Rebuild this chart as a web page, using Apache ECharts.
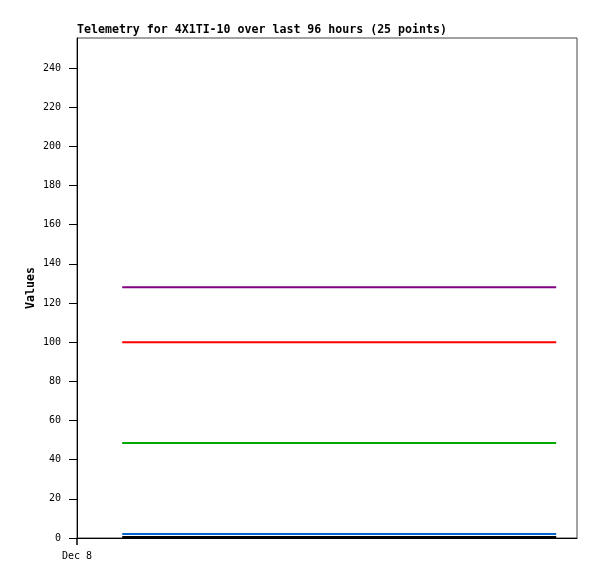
<!DOCTYPE html>
<html><head><meta charset="utf-8">
<script src="https://cdn.jsdelivr.net/npm/echarts@6/dist/echarts.min.js"></script>
<style>html,body{margin:0;padding:0;background:#fff}#c{width:597px;height:579px}</style>
</head><body><div id="c"></div>
<script>
// hours since Dec 8 00:00
var hours = [10,14,18,22,26,30,34,38,42,46,50,54,58,62,66,70,74,78,82,86,90,94,98,102,106];
var purpleVals = [128,128,128,128,128,128,128,128,128,128,128,128,128,128,128,128,128,128,128,128,128,128,128,128,128];
var redVals = [100,100,100,100,100,100,100,100,100,100,100,100,100,100,100,100,100,100,100,100,100,100,100,100,100];
var greenVals = [48.5,48.5,48.5,48.5,48.5,48.5,48.5,48.5,48.5,48.5,48.5,48.5,48.5,48.5,48.5,48.5,48.5,48.5,48.5,48.5,48.5,48.5,48.5,48.5,48.5];
var blueVals = [2,2,2,2,2,2,2,2,2,2,2,2,2,2,2,2,2,2,2,2,2,2,2,2,2];
var blackVals = [0.5,0.5,0.5,0.5,0.5,0.5,0.5,0.5,0.5,0.5,0.5,0.5,0.5,0.5,0.5,0.5,0.5,0.5,0.5,0.5,0.5,0.5,0.5,0.5,0.5];
var yTicks = [0,20,40,60,80,100,120,140,160,180,200,220,240];
var xTicks = [0];
var xLabel = 'Dec 8';
var titleText = 'Telemetry for 4X1TI-10 over last 96 hours (25 points)';

function pairs(v){ return hours.map(function(h,i){return [h,v[i]];}); }
var mono = 'DejaVu Sans Mono';
function ser(v,color){
  return {type:'line',data:pairs(v),showSymbol:false,symbol:'none',lineStyle:{color:color,width:2},itemStyle:{color:color},animation:false};
}
var chart = echarts.init(document.getElementById('c'));
chart.setOption({
  animation:false,
  title:{text:titleText,left:77,top:24,textStyle:{fontFamily:mono,fontSize:11.6,fontWeight:'bold',color:'#000'},padding:0},
  grid:{left:77,top:38,width:500,height:500,show:true,borderColor:'#444',borderWidth:1,backgroundColor:'#fff'},
  xAxis:{type:'value',min:0,max:110.6,
    axisLine:{show:true,onZero:false,lineStyle:{color:'#000',width:1}},
    axisTick:{show:true,length:7,lineStyle:{color:'#000',width:1.5},customValues:xTicks},
    splitLine:{show:false},
    axisLabel:{fontFamily:mono,fontSize:10,color:'#000',margin:13,customValues:xTicks,formatter:function(){return xLabel;}}},
  yAxis:{type:'value',min:0,max:255.3,interval:20,
    name:'Values',nameLocation:'middle',nameGap:40,nameRotate:90,nameMoveOverlap:false,
    nameTextStyle:{fontFamily:mono,fontSize:11.6,fontWeight:'bold',color:'#000'},
    axisLine:{show:true,lineStyle:{color:'#000',width:1}},
    axisTick:{show:true,length:8,customValues:yTicks,lineStyle:{color:'#000'}},
    splitLine:{show:false},
    axisLabel:{fontFamily:mono,fontSize:10,color:'#000',margin:16,customValues:yTicks}},
  series:[ser(purpleVals,'#800080'),ser(redVals,'#ff0000'),ser(greenVals,'#00aa00'),ser(blueVals,'#0066cc'),ser(blackVals,'#000000')]
});
</script></body></html>
